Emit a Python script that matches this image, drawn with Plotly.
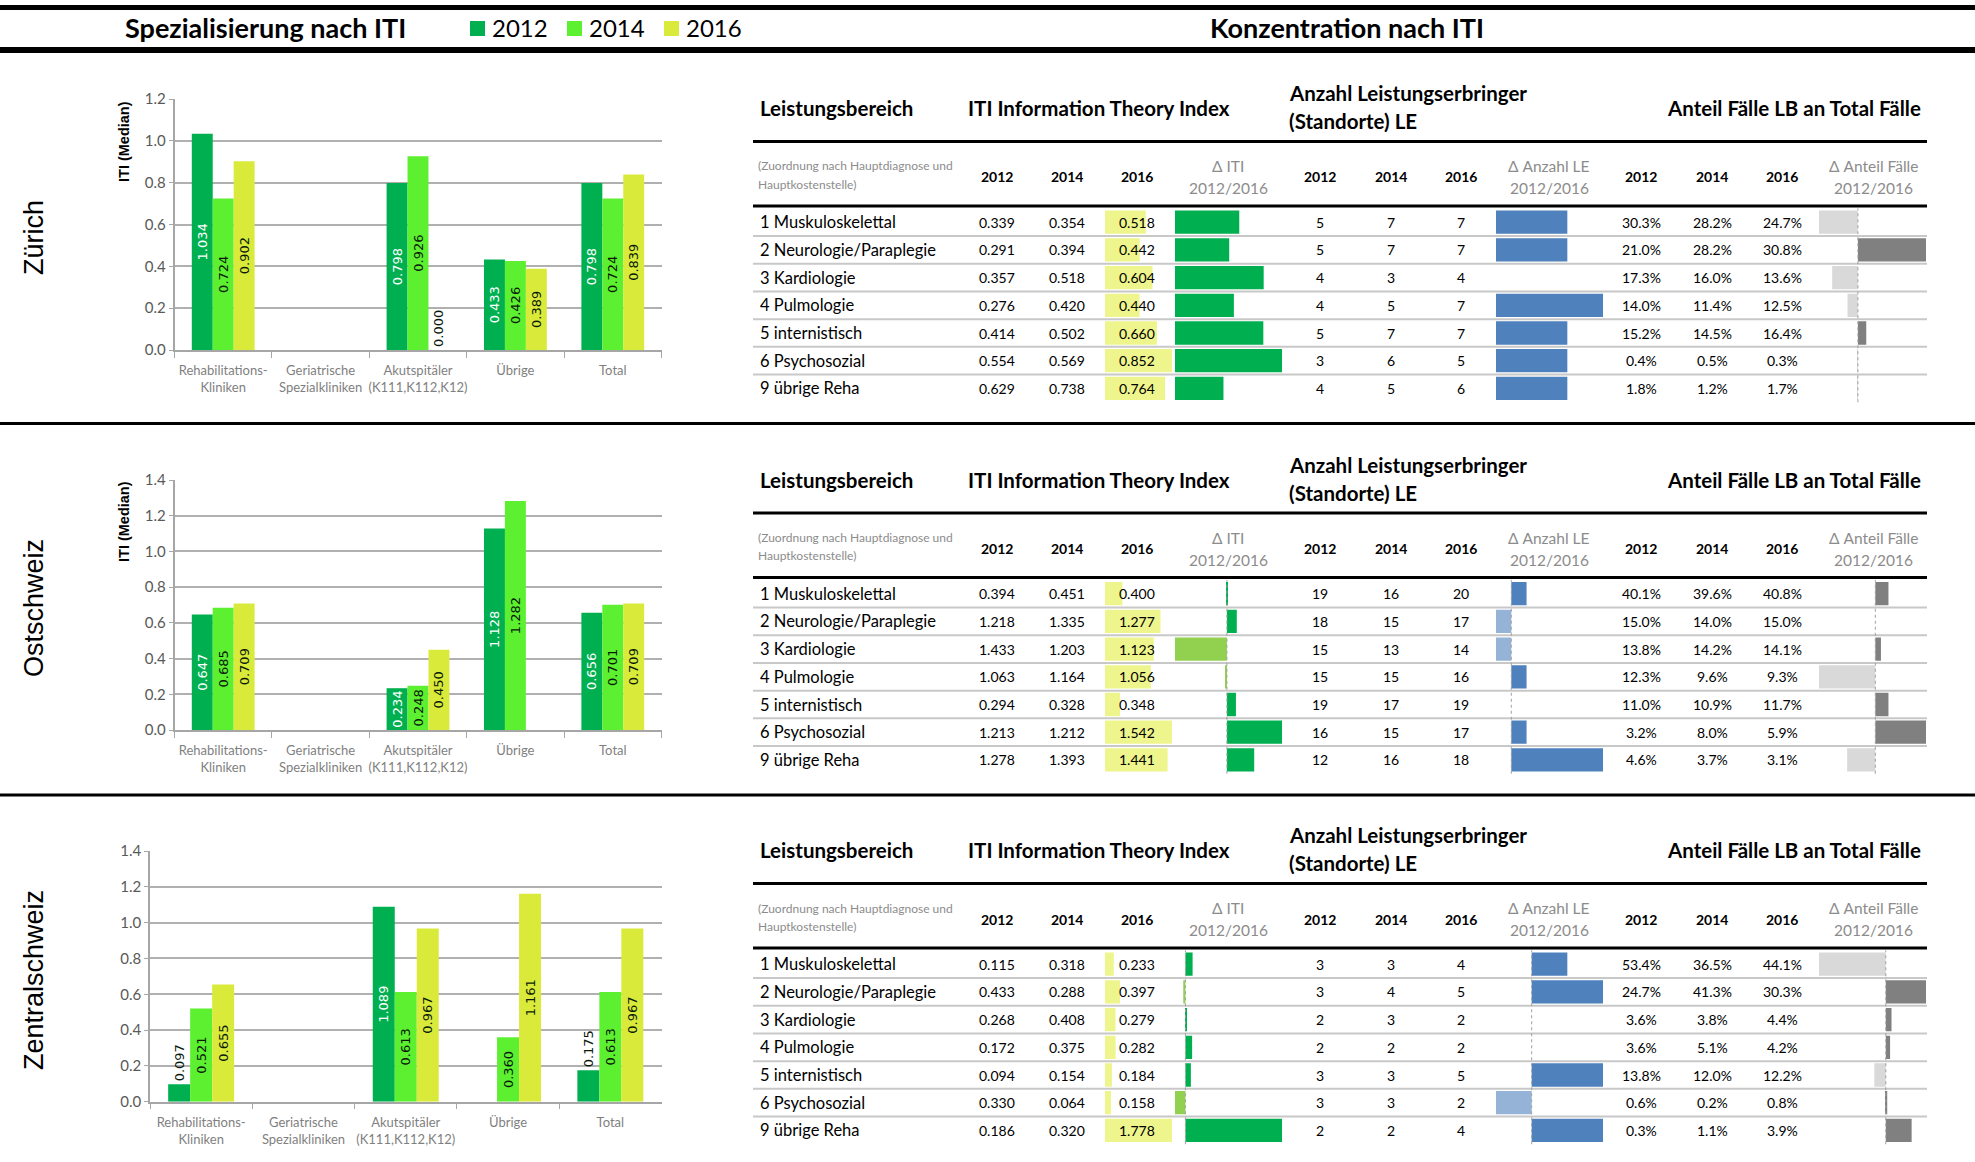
"""
Spezialisierung und Konzentration nach ITI (Zürich, Ostschweiz, Zentralschweiz).

Links je Region ein Säulendiagramm (ITI-Median nach Spitaltyp), rechts eine
Tabelle mit Datenbalken wie in der Excel-Vorlage.
"""
import plotly.graph_objects as go

# --- Daten ---
JAHRE = ["2012", "2014", "2016"]
KATEGORIEN = ["Rehabilitations-<br>Kliniken", "Geriatrische<br>Spezialkliniken",
              "Akutspitäler<br>(K111,K112,K12)", "Übrige", "Total"]
REGIONEN = ["Zürich", "Ostschweiz", "Zentralschweiz"]

ZH_ITI_MEDIAN_2012 = [1.034, None, 0.798, 0.433, 0.798]
ZH_ITI_MEDIAN_2014 = [0.724, None, 0.926, 0.426, 0.724]
ZH_ITI_MEDIAN_2016 = [0.902, None, 0.000, 0.389, 0.839]

OS_ITI_MEDIAN_2012 = [0.647, None, 0.234, 1.128, 0.656]
OS_ITI_MEDIAN_2014 = [0.685, None, 0.248, 1.282, 0.701]
OS_ITI_MEDIAN_2016 = [0.709, None, 0.450, None, 0.709]

ZS_ITI_MEDIAN_2012 = [0.097, None, 1.089, None, 0.175]
ZS_ITI_MEDIAN_2014 = [0.521, None, 0.613, 0.360, 0.613]
ZS_ITI_MEDIAN_2016 = [0.655, None, 0.967, 1.161, 0.967]

Y_MAX = [1.2, 1.4, 1.4]

LEISTUNGSBEREICHE = ["1 Muskuloskelettal", "2 Neurologie/Paraplegie", "3 Kardiologie",
                     "4 Pulmologie", "5 internistisch", "6 Psychosozial", "9 übrige Reha"]

ZH_ITI_2012 = [0.339, 0.291, 0.357, 0.276, 0.414, 0.554, 0.629]
ZH_ITI_2014 = [0.354, 0.394, 0.518, 0.420, 0.502, 0.569, 0.738]
ZH_ITI_2016 = [0.518, 0.442, 0.604, 0.440, 0.660, 0.852, 0.764]
ZH_LE_2012 = [5, 5, 4, 4, 5, 3, 4]
ZH_LE_2014 = [7, 7, 3, 5, 7, 6, 5]
ZH_LE_2016 = [7, 7, 4, 7, 7, 5, 6]
ZH_ANTEIL_2012 = [30.3, 21.0, 17.3, 14.0, 15.2, 0.4, 1.8]
ZH_ANTEIL_2014 = [28.2, 28.2, 16.0, 11.4, 14.5, 0.5, 1.2]
ZH_ANTEIL_2016 = [24.7, 30.8, 13.6, 12.5, 16.4, 0.3, 1.7]

OS_ITI_2012 = [0.394, 1.218, 1.433, 1.063, 0.294, 1.213, 1.278]
OS_ITI_2014 = [0.451, 1.335, 1.203, 1.164, 0.328, 1.212, 1.393]
OS_ITI_2016 = [0.400, 1.277, 1.123, 1.056, 0.348, 1.542, 1.441]
OS_LE_2012 = [19, 18, 15, 15, 19, 16, 12]
OS_LE_2014 = [16, 15, 13, 15, 17, 15, 16]
OS_LE_2016 = [20, 17, 14, 16, 19, 17, 18]
OS_ANTEIL_2012 = [40.1, 15.0, 13.8, 12.3, 11.0, 3.2, 4.6]
OS_ANTEIL_2014 = [39.6, 14.0, 14.2, 9.6, 10.9, 8.0, 3.7]
OS_ANTEIL_2016 = [40.8, 15.0, 14.1, 9.3, 11.7, 5.9, 3.1]

ZS_ITI_2012 = [0.115, 0.433, 0.268, 0.172, 0.094, 0.330, 0.186]
ZS_ITI_2014 = [0.318, 0.288, 0.408, 0.375, 0.154, 0.064, 0.320]
ZS_ITI_2016 = [0.233, 0.397, 0.279, 0.282, 0.184, 0.158, 1.778]
ZS_LE_2012 = [3, 3, 2, 2, 3, 3, 2]
ZS_LE_2014 = [3, 4, 3, 2, 3, 3, 2]
ZS_LE_2016 = [4, 5, 2, 2, 5, 2, 4]
ZS_ANTEIL_2012 = [53.4, 24.7, 3.6, 3.6, 13.8, 0.6, 0.3]
ZS_ANTEIL_2014 = [36.5, 41.3, 3.8, 5.1, 12.0, 0.2, 1.1]
ZS_ANTEIL_2016 = [44.1, 30.3, 4.4, 4.2, 12.2, 0.8, 3.9]

# --- Konfiguration ---
W, H = 1975, 1162
FONT = "Lato"
FONT_ARIAL = "Liberation Sans"
FONT_LABEL = "DejaVu Sans"
FARBEN = ["#00B050", "#5CF030", "#D9EA3A"]
GELB_BALKEN = "#EEF58C"
BALKEN_FARBEN = {  # (positiv, negativ)
    "iti": ("#00B050", "#92D050"),
    "le": ("#4F81BD", "#95B3D7"),
    "anteil": ("#808080", "#D9D9D9"),
}

SEKTION_OFFSET = [0, 371.5, 742]
# Säulendiagramme: (oben, unten, links) in Pixel
CHART_POS = [(99, 350, 174.5), (480, 730, 174.5), (851, 1101.7, 150)]
CHART_RECHTS = 661.5
LABEL_AUSSEN_UNTER = 0.2  # kürzere Säulen: Beschriftung oberhalb

ZEILE_0 = 222.2
ZEILE_H = 27.7
TAB_LINKS, TAB_RECHTS = 753, 1927
SPALTEN_ITI = [997, 1067, 1137]
SPALTEN_LE = [1320, 1391, 1461]
SPALTEN_ANTEIL = [1641, 1712, 1782]
ZELLE_GELB = (1105, 1172)
ZELLE_DITI = (1175, 1282)
ZELLE_DLE = (1496, 1603)
ZELLE_DANTEIL = (1819, 1926)

KOPF_GROESSE = 20.5
GRAU_TEXT = "#8C8C8C"

fig = go.Figure()
annotations = []
shapes = []
n_achsen = [0]


def px(x):
    return x / W


def py(y):
    return 1 - y / H


def text(x, y, s, size=14, color="#000000", bold=False, xanchor="center",
         family=FONT, angle=0):
    if bold:
        s = "<b>" + s + "</b>"
    annotations.append(dict(
        x=px(x), y=py(y), xref="paper", yref="paper", text=s, showarrow=False,
        xanchor=xanchor, yanchor="middle", textangle=angle,
        font=dict(family=family, size=size, color=color)))


def hline(x0, x1, y, width, color="#000000"):
    shapes.append(dict(type="line", xref="paper", yref="paper",
                       x0=px(x0), x1=px(x1), y0=py(y), y1=py(y),
                       line=dict(color=color, width=width)))


def neue_achsen(x0, x1, y0, y1, xopts, yopts):
    n_achsen[0] += 1
    n = n_achsen[0]
    sfx = "" if n == 1 else str(n)
    fig.update_layout(**{
        "xaxis" + sfx: dict(domain=[px(x0), px(x1)], anchor="y" + sfx,
                            automargin=False, **xopts),
        "yaxis" + sfx: dict(domain=[py(y1), py(y0)], anchor="x" + sfx,
                            automargin=False, **yopts),
    })
    return "x" + sfx, "y" + sfx


def saeulen(region_idx, werte):
    top, bottom, left = CHART_POS[region_idx]
    xa, ya = neue_achsen(
        left, CHART_RECHTS, top, bottom,
        dict(type="category", range=[-0.5, 4.5], showline=True, linecolor="#A6A6A6",
             linewidth=1.5, ticks="outside", tickson="boundaries", ticklen=6,
             tickcolor="#A6A6A6", showgrid=False, fixedrange=True, tickangle=0,
             ticklabelstandoff=8,
             tickfont=dict(family=FONT, size=13, color="#7F7F7F")),
        dict(range=[0, Y_MAX[region_idx]], dtick=0.2, tickformat=".1f",
             showline=True, linecolor="#A6A6A6", linewidth=1.5, ticks="outside",
             ticklen=4, tickcolor="#A6A6A6", gridcolor="#B0B0B0", gridwidth=1.5,
             zeroline=False, fixedrange=True,
             tickfont=dict(family=FONT, size=15, color="#595959")))
    for j, jahr in enumerate(JAHRE):
        pos = ["outside" if v is not None and v < LABEL_AUSSEN_UNTER else "inside"
               for v in werte[j]]
        fig.add_trace(go.Bar(
            x=KATEGORIEN, y=werte[j], name=jahr, xaxis=xa, yaxis=ya,
            marker=dict(color=FARBEN[j], line=dict(width=0)),
            texttemplate="%{y:.3f}", textposition=pos, textangle=-90,
            insidetextanchor="middle", constraintext="none", cliponaxis=False,
            textfont=dict(family=FONT_LABEL, size=13),
            insidetextfont=dict(color="#FFFFFF" if j == 0 else "#0A1A0A"),
            outsidetextfont=dict(color="#0A1A0A"),
            showlegend=False, hoverinfo="x+y"))


def datenbalken(zelle, off, werte, farben, nur_positiv=False):
    lo = min(0, min(werte))
    hi = max(0, max(werte))
    top = ZEILE_0 + off - ZEILE_H / 2
    bottom = ZEILE_0 + off + 6 * ZEILE_H + ZEILE_H / 2
    xa, ya = neue_achsen(
        zelle[0], zelle[1], top, bottom,
        dict(range=[lo, hi], visible=False, fixedrange=True),
        dict(range=[6.5, -0.5], visible=False, fixedrange=True))
    if nur_positiv:
        col = farben
    else:
        col = [farben[0] if v >= 0 else farben[1] for v in werte]
    fig.add_trace(go.Bar(
        x=werte, y=list(range(len(werte))), orientation="h", width=0.84,
        xaxis=xa, yaxis=ya, marker=dict(color=col, line=dict(width=0)),
        showlegend=False, hoverinfo="x"))
    if lo < 0:
        shapes.append(dict(type="line", xref=xa, yref=ya + " domain",
                           x0=0, x1=0, y0=0, y1=1,
                           line=dict(color="#A0A0A0", width=1, dash="dot")))


def tabelle(off, iti, le, anteil):
    # Kopf
    text(758, 108 + off, "Leistungsbereich", size=KOPF_GROESSE, bold=True, xanchor="left")
    text(966, 108 + off, "ITI Information Theory Index", size=KOPF_GROESSE, bold=True,
         xanchor="left")
    text(1287, 93 + off, "Anzahl Leistungserbringer", size=KOPF_GROESSE, bold=True,
         xanchor="left")
    text(1287, 121 + off, "(Standorte) LE", size=KOPF_GROESSE, bold=True, xanchor="left")
    text(1923, 108 + off, "Anteil Fälle LB an Total Fälle", size=KOPF_GROESSE, bold=True,
         xanchor="right")
    hline(TAB_LINKS, TAB_RECHTS, 141.5 + off, 3)
    text(756, 166 + off, "(Zuordnung nach Hauptdiagnose und", size=12,
         color=GRAU_TEXT, xanchor="left")
    text(756, 184 + off, "Hauptkostenstelle)", size=12, color=GRAU_TEXT, xanchor="left")
    for spalten in (SPALTEN_ITI, SPALTEN_LE, SPALTEN_ANTEIL):
        for x, jahr in zip(spalten, JAHRE):
            text(x, 177 + off, jahr, size=14, bold=True)
    for x, titel in ((1228, "Δ ITI"), (1549, "Δ Anzahl LE"), (1873, "Δ Anteil Fälle")):
        text(x, 166 + off, titel, size=15.5, color=GRAU_TEXT)
        text(x, 188 + off, "2012/2016", size=15.5, color=GRAU_TEXT)
    hline(TAB_LINKS, TAB_RECHTS, 206 + off, 3)

    # Zeilen
    for i, name in enumerate(LEISTUNGSBEREICHE):
        y = ZEILE_0 + off + i * ZEILE_H
        text(758, y, name, size=16.5, xanchor="left")
        for x, werte in zip(SPALTEN_ITI, iti):
            text(x, y, f"{werte[i]:.3f}", size=14)
        for x, werte in zip(SPALTEN_LE, le):
            text(x, y, f"{werte[i]}", size=14)
        for x, werte in zip(SPALTEN_ANTEIL, anteil):
            text(x, y, f"{werte[i]:.1f}%", size=14)
        if i < len(LEISTUNGSBEREICHE) - 1:
            hline(TAB_LINKS, TAB_RECHTS, y + ZEILE_H / 2, 2, color="#C8C8C8")

    # Datenbalken
    d_iti = [round(b - a, 3) for a, b in zip(iti[0], iti[2])]
    d_le = [b - a for a, b in zip(le[0], le[2])]
    d_anteil = [round(b - a, 1) for a, b in zip(anteil[0], anteil[2])]
    datenbalken(ZELLE_GELB, off, iti[2], GELB_BALKEN, nur_positiv=True)
    datenbalken(ZELLE_DITI, off, d_iti, BALKEN_FARBEN["iti"])
    datenbalken(ZELLE_DLE, off, d_le, BALKEN_FARBEN["le"])
    datenbalken(ZELLE_DANTEIL, off, d_anteil, BALKEN_FARBEN["anteil"])


def main():
    saeulen_daten = [
        (ZH_ITI_MEDIAN_2012, ZH_ITI_MEDIAN_2014, ZH_ITI_MEDIAN_2016),
        (OS_ITI_MEDIAN_2012, OS_ITI_MEDIAN_2014, OS_ITI_MEDIAN_2016),
        (ZS_ITI_MEDIAN_2012, ZS_ITI_MEDIAN_2014, ZS_ITI_MEDIAN_2016),
    ]
    tabellen_daten = [
        ((ZH_ITI_2012, ZH_ITI_2014, ZH_ITI_2016), (ZH_LE_2012, ZH_LE_2014, ZH_LE_2016),
         (ZH_ANTEIL_2012, ZH_ANTEIL_2014, ZH_ANTEIL_2016)),
        ((OS_ITI_2012, OS_ITI_2014, OS_ITI_2016), (OS_LE_2012, OS_LE_2014, OS_LE_2016),
         (OS_ANTEIL_2012, OS_ANTEIL_2014, OS_ANTEIL_2016)),
        ((ZS_ITI_2012, ZS_ITI_2014, ZS_ITI_2016), (ZS_LE_2012, ZS_LE_2014, ZS_LE_2016),
         (ZS_ANTEIL_2012, ZS_ANTEIL_2014, ZS_ANTEIL_2016)),
    ]
    region_y = [238, 608, 980]
    iti_titel_y = [142, 522, None]

    for r, region in enumerate(REGIONEN):
        saeulen(r, saeulen_daten[r])
        tabelle(SEKTION_OFFSET[r], *tabellen_daten[r])
        text(34, region_y[r], region, size=27, family=FONT_ARIAL, angle=-90)
        if iti_titel_y[r] is not None:
            text(124, iti_titel_y[r], "ITI (Median)", size=14.5, bold=True,
                 family=FONT_ARIAL, angle=-90)

    # --- Kopfzeile ---
    hline(0, W, 7.5, 5)
    hline(0, W, 50, 6)
    hline(0, W, 423.5, 3)
    hline(0, W, 795, 3)
    text(265, 28, "Spezialisierung nach ITI", size=27, bold=True)
    text(1347, 28, "Konzentration nach ITI", size=27, bold=True)
    for x, jahr, farbe in zip([470, 567, 664], JAHRE, FARBEN):
        shapes.append(dict(type="rect", xref="paper", yref="paper",
                           x0=px(x), x1=px(x + 15), y0=py(36), y1=py(21),
                           fillcolor=farbe, line=dict(width=0)))
        text(x + 20, 28, jahr, size=24, xanchor="left")

    fig.update_layout(
        width=W, height=H, margin=dict(l=0, r=0, t=0, b=0),
        paper_bgcolor="#FFFFFF", plot_bgcolor="#FFFFFF",
        barmode="group", bargap=0.355, bargroupgap=0,
        annotations=annotations, shapes=shapes, showlegend=False,
        font=dict(family=FONT),
    )
    # Browser-Standardrand entfernen, damit die Grafik bei (0, 0) beginnt
    fig.write_html("out.html", config={"displayModeBar": False},
                   post_script="document.body.style.margin = '0';")


if __name__ == "__main__":
    main()
